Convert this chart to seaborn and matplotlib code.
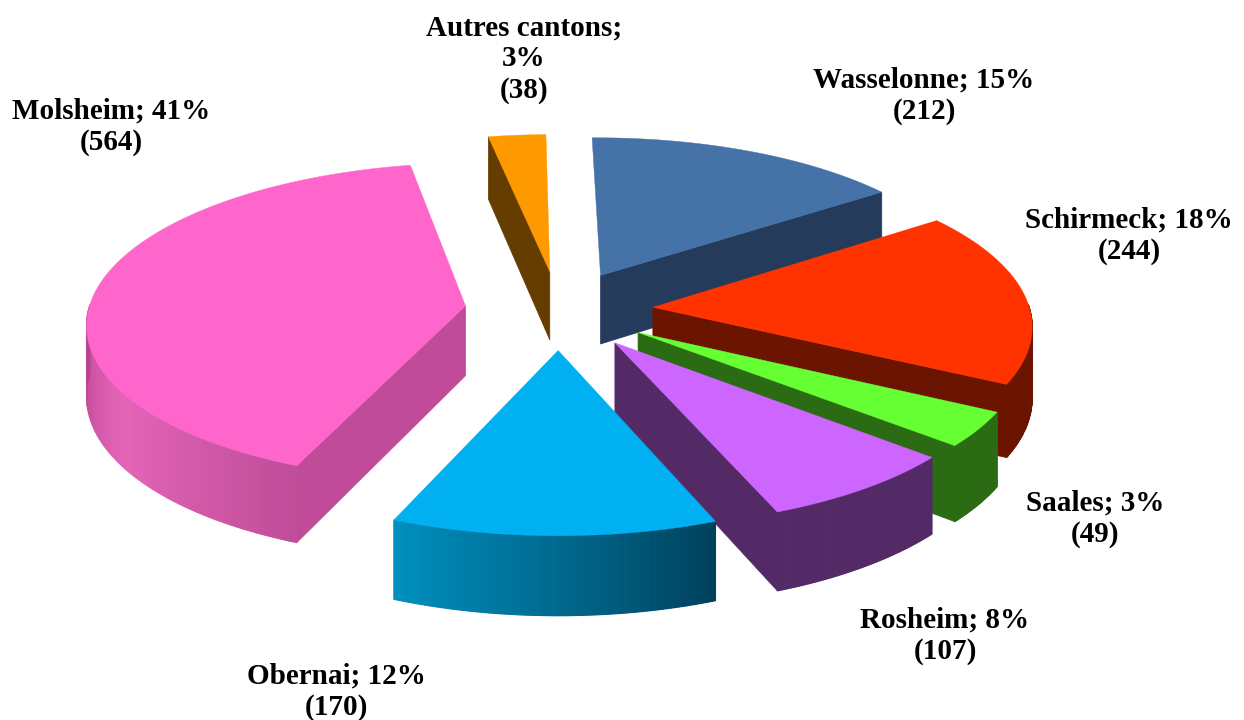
import numpy as np
import matplotlib
matplotlib.use("Agg")
import matplotlib.pyplot as plt
import seaborn as sns

categories = ["Wasselonne", "Schirmeck", "Saales", "Rosheim", "Obernai", "Molsheim", "Autres cantons"]
counts = [212, 244, 49, 107, 170, 564, 38]
percents = [15, 18, 3, 8, 12, 41, 3]

top_colors = ["#4572A7", "#FF3300", "#66FF33", "#CC66FF", "#00B0F0", "#FF66CC", "#FF9900"]
cut_colors = ["#243B5C", "#6B1400", "#2A6B14", "#532A66", "#006080", "#C04B98", "#663D00"]
arc_colors = [["#243B5C"], ["#6B1400"], ["#2A6B14", "#2A6B14"], ["#532A66"],
              ["#0090BF", "#006A90", "#00415C"],
              ["#C04E9A", "#E565B8", "#B5438F"], ["#663D00"]]

label_pos = [(924, 96), (1129, 236), (1095, 519), (945, 636), (336, 692), (111, 127), (524, 59)]
label_text = ["{}; {}%\n({})"] * 6 + ["{};\n{}%\n({})"]

# projection of the tilted pie, in picture pixels
cx, cy = 559, 310
rx, ry = 377, 158
depth = 70
persp = 0.10
explode = 0.25
start_angle = np.deg2rad(-0.8)


def project(x, y, z=0.0):
    w = 1.0 / (1.0 + persp * np.asarray(y))
    return cx + rx * np.asarray(x) * w, cy - ry * np.asarray(y) * w + z * depth * w


sns.set_theme(style="white")
plt.rcParams["font.family"] = ["Liberation Serif", "DejaVu Serif"]

fig = plt.figure(figsize=(12.44, 7.2), dpi=100)
ax = fig.add_axes([0, 0, 1, 1])
ax.set_xlim(0, 1244)
ax.set_ylim(720, 0)
ax.axis("off")

edges = start_angle + np.cumsum([0] + counts) / sum(counts) * 2 * np.pi
# back slices first so that front walls overlap them
order = [6, 0, 5, 1, 2, 3, 4]

for i in order:
    a0, a1 = edges[i], edges[i + 1]
    mid = (a0 + a1) / 2
    ox, oy = explode * np.sin(mid), explode * np.cos(mid)
    t = np.linspace(a0, a1, 120)
    px, py = ox + np.sin(t), oy + np.cos(t)

    # flat cut faces, only those turned to the viewer
    for a, sign in ((a0, -1), (a1, 1)):
        if sign * -np.sin(a) < -0.05:
            xs = np.array([ox, ox + np.sin(a), ox + np.sin(a), ox])
            ys = np.array([oy, oy + np.cos(a), oy + np.cos(a), oy])
            zs = np.array([0, 0, 1, 1])
            sx, sy = project(xs, ys, zs)
            ax.fill(sx, sy, color=cut_colors[i], lw=0.5)

    # outer wall, cut in thin strips for the shading
    front = np.where(np.cos(t) < 0.02)[0]
    if len(front) > 1:
        pal = sns.blend_palette(arc_colors[i] * (2 if len(arc_colors[i]) == 1 else 1), n_colors=len(front))
        if i == 4:
            pal = pal[::-1]
        for k, (j0, j1) in enumerate(zip(front[:-1], front[1:])):
            xs = np.array([px[j0], px[j1], px[j1], px[j0]])
            ys = np.array([py[j0], py[j1], py[j1], py[j0]])
            zs = np.array([0, 0, 1, 1])
            sx, sy = project(xs, ys, zs)
            ax.fill(sx, sy, color=pal[k], lw=0.8)

    # top face
    sx, sy = project(np.r_[ox, px], np.r_[oy, py])
    ax.fill(sx, sy, color=top_colors[i], lw=0.3)

for name, n, p, pos, fmt in zip(categories, counts, percents, label_pos, label_text):
    ax.text(pos[0], pos[1], fmt.format(name, p, n), ha="center", va="center",
            fontsize=21, fontweight="bold", color="black", linespacing=1.2)

fig.savefig("out.png", dpi=100)
